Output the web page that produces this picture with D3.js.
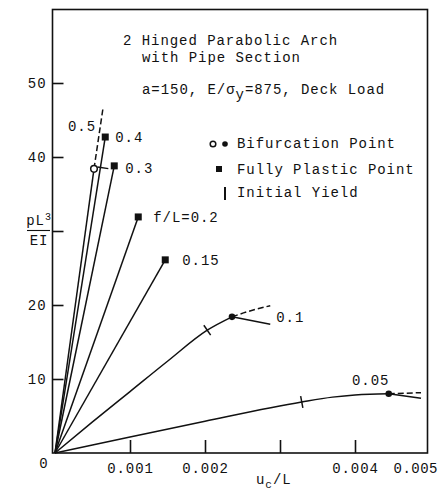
<!DOCTYPE html>
<html>
<head>
<meta charset="utf-8">
<script src="https://cdn.jsdelivr.net/npm/d3@7"></script>
<style>
  html, body { margin: 0; padding: 0; background: #fff; }
  svg { display: block; }
  text { font-family: "Liberation Mono", "DejaVu Sans Mono", monospace; font-size: 14px; fill: #111; letter-spacing: 0.95px; }
</style>
</head>
<body>
<svg id="chart" width="439" height="491"></svg>
<script>
// ---- data: load parameter pL^3/EI against crown displacement u_c/L ----

// arches whose path is a straight line from the origin to an end marker
const steepRatio = ["0.5", "0.4", "0.3", "f/L=0.2", "0.15"];
const steepEndU  = [0.00052, 0.00067, 0.00079, 0.00111, 0.00147];
const steepEndP  = [38.4, 42.7, 38.8, 31.9, 26.1];
const steepEndKind = ["bifurcation", "plastic", "plastic", "plastic", "plastic"];

// f/L = 0.5 : post-bifurcation branch
const u50Post = [0.00052, 0.00064];
const p50Post = [38.4, 46.6];

// f/L = 0.4 : initial yield
const yield40 = [0.000606, 38.6];

// f/L = 0.1
const u10 = [0, 0.0005, 0.001, 0.0015, 0.00203, 0.00236];
const p10 = [0, 4.2, 8.3, 12.4, 16.6, 18.4];
const yield10Index = 4;
const u10Up = [0.00236, 0.0026, 0.00287];
const p10Up = [18.4, 19.2, 19.9];
const u10Down = [0.00236, 0.00287];
const p10Down = [18.4, 17.4];

// f/L = 0.05
const u05 = [0, 0.001, 0.002, 0.00329, 0.0037, 0.0040, 0.0042, 0.00445];
const p05 = [0, 2.15, 4.3, 6.9, 7.55, 7.85, 7.95, 8.0];
const yield05Index = 3;
const u05Up = [0.00445, 0.00488];
const p05Up = [8.0, 8.15];
const u05Down = [0.00445, 0.00488];
const p05Down = [8.0, 7.4];

// axes
const xTickVals = [0.001, 0.002, 0.003, 0.004];
const xTickLabels = ["0.001", "0.002", "", "0.004"];
const xEndLabel = "0.005";
const yTickVals = [10, 20, 30, 40, 50];
const yTickLabels = ["10", "20", "", "40", "50"];

// ---- drawing ----
const svg = d3.select("#chart");
const ink = "#111";

const x = d3.scaleLinear().domain([0, 0.005]).range([55, 430]);
const y = d3.scaleLinear().domain([0, 60]).range([453, 9]);

// frame
svg.append("rect")
  .attr("x", 52.5).attr("y", 9.5)
  .attr("width", 375).attr("height", 443.5)
  .attr("fill", "none").attr("stroke", ink).attr("stroke-width", 1.6);

// left axis: ticks pointing inward, labels outside
const yAxis = d3.axisLeft(y)
  .tickValues(yTickVals)
  .tickFormat((d, i) => yTickLabels[i])
  .tickSizeInner(-11).tickSizeOuter(0).tickPadding(6);
const gy = svg.append("g").attr("transform", "translate(52.5,0)").call(yAxis);
gy.select(".domain").remove();
gy.selectAll("line").attr("stroke", ink).attr("stroke-width", 1.6);
gy.selectAll("text").attr("font-family", null).attr("font-size", null).style("fill", ink);

// bottom axis: ticks pointing up
const xAxis = d3.axisBottom(x)
  .tickValues(xTickVals)
  .tickFormat((d, i) => xTickLabels[i])
  .tickSizeInner(-13).tickSizeOuter(0).tickPadding(10);
const gx = svg.append("g").attr("transform", "translate(0,453)").call(xAxis);
gx.select(".domain").remove();
gx.selectAll("line").attr("stroke", ink).attr("stroke-width", 1.6);
gx.selectAll("text").attr("font-family", null).attr("font-size", null).style("fill", ink);

// last x label sits against the right edge
svg.append("text").attr("x", 438).attr("y", 473)
  .attr("text-anchor", "end").style("letter-spacing", "0.5px").text(xEndLabel);
svg.append("text").attr("x", 44).attr("y", 468)
  .attr("text-anchor", "middle").text("0");

// axis titles
const xt = svg.append("text").attr("x", 256).attr("y", 484);
xt.append("tspan").text("u");
xt.append("tspan").attr("dy", 4).attr("font-size", 11).text("c");
xt.append("tspan").attr("dy", -4).text("/L");

const yt = svg.append("text").attr("x", 39).attr("y", 225).attr("text-anchor", "middle");
yt.append("tspan").text("pL");
yt.append("tspan").attr("dy", -5).attr("font-size", 10).text("3");
svg.append("line").attr("x1", 27).attr("x2", 50).attr("y1", 230.5).attr("y2", 230.5)
  .attr("stroke", ink).attr("stroke-width", 1.1);
svg.append("text").attr("x", 39).attr("y", 245).attr("text-anchor", "middle").text("EI");

// title block
svg.append("text").attr("x", 123).attr("y", 45).text("2 Hinged Parabolic Arch");
svg.append("text").attr("x", 142).attr("y", 62).text("with Pipe Section");
const pt = svg.append("text").attr("x", 142).attr("y", 94);
pt.append("tspan").text("a=150, E/σ");
pt.append("tspan").attr("dy", 5).text("y");
pt.append("tspan").attr("dy", -5).text("=875, Deck Load");

// legend
const lg = svg.append("g");
lg.append("circle").attr("cx", 213).attr("cy", 144).attr("r", 2.8)
  .attr("fill", "#fff").attr("stroke", ink).attr("stroke-width", 1.5);
lg.append("circle").attr("cx", 225).attr("cy", 144).attr("r", 2.8).attr("fill", ink);
lg.append("text").attr("x", 237).attr("y", 148).text("Bifurcation Point");
lg.append("rect").attr("x", 216).attr("y", 166).attr("width", 6).attr("height", 6).attr("fill", ink);
lg.append("text").attr("x", 237).attr("y", 174).text("Fully Plastic Point");
lg.append("line").attr("x1", 225).attr("x2", 225).attr("y1", 187).attr("y2", 200)
  .attr("stroke", ink).attr("stroke-width", 2);
lg.append("text").attr("x", 237).attr("y", 197).text("Initial Yield");

// helpers
const zip = (us, ps) => us.map((u, i) => [u, ps[i]]);
const straight = d3.line().x(d => x(d[0])).y(d => y(d[1]));
const smooth = d3.line().x(d => x(d[0])).y(d => y(d[1])).curve(d3.curveMonotoneX);

function path(pts, gen, dashed) {
  svg.append("path").attr("d", gen(pts))
    .attr("fill", "none").attr("stroke", ink).attr("stroke-width", 1.5)
    .attr("stroke-dasharray", dashed ? "6,3" : null);
}

// short mark across the curve at (u,p), perpendicular to the local direction
function yieldMark(u, p, du, dp, half) {
  const px = x(u), py = y(p);
  const dx = x(u + du) - x(u), dy = y(p + dp) - y(p);
  const len = Math.hypot(dx, dy);
  const nx = -dy / len, ny = dx / len;
  svg.append("line")
    .attr("x1", px - nx * half[0]).attr("y1", py - ny * half[0])
    .attr("x2", px + nx * half[1]).attr("y2", py + ny * half[1])
    .attr("stroke", ink).attr("stroke-width", 1.5);
}

// straight paths
steepRatio.forEach((r, i) => {
  path([[0, 0], [steepEndU[i], steepEndP[i]]], straight, false);
});
path(zip(u50Post, p50Post), straight, true);
yieldMark(yield40[0], yield40[1], steepEndU[1], steepEndP[1], [3, 8]);

// f/L = 0.1
path(zip(u10, p10), smooth, false);
path(zip(u10Up, p10Up), smooth, true);
path(zip(u10Down, p10Down), straight, false);
yieldMark(u10[yield10Index], p10[yield10Index],
  u10[yield10Index + 1] - u10[yield10Index - 1], p10[yield10Index + 1] - p10[yield10Index - 1], [6, 6]);

// f/L = 0.05
path(zip(u05, p05), smooth, false);
path(zip(u05Up, p05Up), straight, true);
path(zip(u05Down, p05Down), straight, false);
yieldMark(u05[yield05Index], p05[yield05Index],
  u05[yield05Index + 1] - u05[yield05Index - 1], p05[yield05Index + 1] - p05[yield05Index - 1], [6, 6]);

// end markers
steepRatio.forEach((r, i) => {
  const cx = x(steepEndU[i]), cy = y(steepEndP[i]);
  if (steepEndKind[i] === "bifurcation") {
    svg.append("circle").attr("cx", cx).attr("cy", cy).attr("r", 3.3)
      .attr("fill", "#fff").attr("stroke", ink).attr("stroke-width", 1.5);
  } else {
    svg.append("rect").attr("x", cx - 3.5).attr("y", cy - 3.5)
      .attr("width", 7).attr("height", 7).attr("fill", ink);
  }
});
svg.append("circle").attr("cx", x(u10[u10.length - 1])).attr("cy", y(p10[p10.length - 1]))
  .attr("r", 3.3).attr("fill", ink);
svg.append("circle").attr("cx", x(u05[u05.length - 1])).attr("cy", y(p05[p05.length - 1]))
  .attr("r", 3.3).attr("fill", ink);

// curve labels (offsets from each path's end point)
const steepLabelDx = [-26, 10, 11, 15, 17];
const steepLabelDy = [-38, 5, 7, 5, 5];
steepRatio.forEach((r, i) => {
  svg.append("text")
    .attr("x", x(steepEndU[i]) + steepLabelDx[i])
    .attr("y", y(steepEndP[i]) + steepLabelDy[i])
    .text(r);
});
svg.append("text").attr("x", x(u10Up[u10Up.length - 1]) + 6).attr("y", 322).text("0.1");
svg.append("text").attr("x", 352).attr("y", 385).text("0.05");
</script>
</body>
</html>
